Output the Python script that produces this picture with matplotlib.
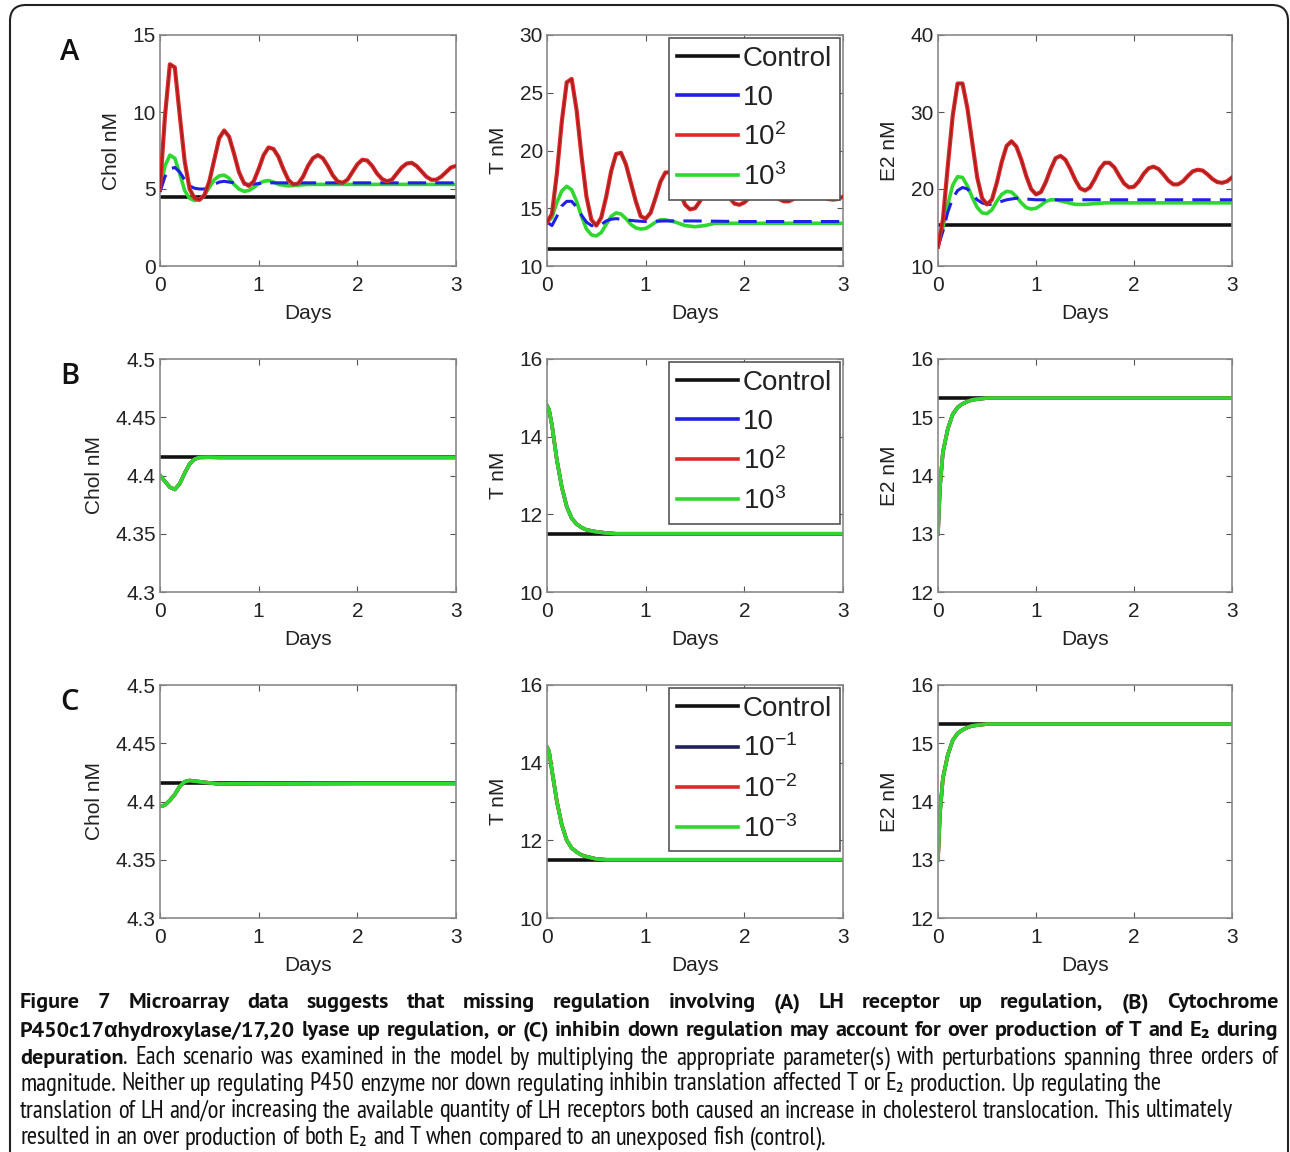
import numpy as np
import matplotlib
matplotlib.use("Agg")
import matplotlib.pyplot as plt
from matplotlib.lines import Line2D
from matplotlib.patches import FancyBboxPatch
from matplotlib.transforms import IdentityTransform

plt.rcParams['font.family'] = ['Liberation Sans', 'DejaVu Sans']
plt.rcParams['mathtext.fontset'] = 'custom'
plt.rcParams['mathtext.rm'] = 'Liberation Sans'
plt.rcParams['mathtext.it'] = 'Liberation Sans:italic'
plt.rcParams['mathtext.bf'] = 'Liberation Sans:bold'

W, H = 1290, 1152

# ---------------- data ----------------
t_full = [0.00, 0.05, 0.10, 0.15, 0.20, 0.25, 0.30, 0.35, 0.40, 0.45, 0.50, 0.55,
          0.60, 0.65, 0.70, 0.75, 0.80, 0.85, 0.90, 0.95, 1.00, 1.05, 1.10, 1.15,
          1.20, 1.25, 1.30, 1.35, 1.40, 1.45, 1.50, 1.55, 1.60, 1.65, 1.70, 1.75,
          1.80, 1.85, 1.90, 1.95, 2.00, 2.05, 2.10, 2.15, 2.20, 2.25, 2.30, 2.35,
          2.40, 2.45, 2.50, 2.55, 2.60, 2.65, 2.70, 2.75, 2.80, 2.85, 2.90, 2.95, 3.00]

# Panel A : LH receptor up regulation
a_chol_ctrl = 4.45
a_chol_red = [5.0, 9.7, 13.1, 12.9, 9.8, 6.8, 5.0, 4.4, 4.3, 4.6, 5.5, 6.9,
              8.3, 8.8, 8.4, 7.3, 6.1, 5.4, 5.2, 5.5, 6.3, 7.2, 7.7, 7.6,
              7.1, 6.3, 5.6, 5.3, 5.35, 5.8, 6.5, 7.0, 7.2, 7.0, 6.5, 5.9,
              5.5, 5.4, 5.6, 6.1, 6.6, 6.9, 6.85, 6.5, 6.0, 5.65, 5.5, 5.6,
              6.0, 6.4, 6.65, 6.7, 6.5, 6.15, 5.8, 5.6, 5.6, 5.8, 6.1, 6.4, 6.5]
a_chol_blue_t = [0.00, 0.05, 0.10, 0.15, 0.20, 0.25, 0.30, 0.35, 0.40, 0.45, 0.50, 0.55,
                 0.60, 0.65, 0.70, 0.80, 0.90, 1.00, 1.10, 1.20, 1.50, 2.00, 3.00]
a_chol_blue = [4.8, 5.8, 6.3, 6.4, 6.1, 5.6, 5.2, 5.05, 5.0, 5.0, 5.1, 5.3,
               5.45, 5.5, 5.45, 5.35, 5.3, 5.35, 5.4, 5.4, 5.4, 5.4, 5.4]
a_chol_green_t = [0.00, 0.05, 0.10, 0.15, 0.20, 0.25, 0.30, 0.35, 0.40, 0.45, 0.50, 0.55,
                  0.60, 0.65, 0.70, 0.75, 0.80, 0.85, 0.90, 0.95, 1.00, 1.05, 1.10, 1.15,
                  1.20, 1.30, 1.40, 1.50, 2.00, 3.00]
a_chol_green = [5.0, 6.5, 7.2, 7.0, 6.0, 4.9, 4.4, 4.25, 4.3, 4.6, 5.1, 5.6,
                5.85, 5.9, 5.7, 5.3, 5.0, 4.85, 4.9, 5.1, 5.35, 5.5, 5.55, 5.45,
                5.3, 5.2, 5.25, 5.3, 5.3, 5.3]

a_t_ctrl = 11.5
a_t_red = [13.8, 14.5, 18.0, 22.5, 25.9, 26.2, 23.5, 19.5, 16.0, 14.0, 13.5, 14.2,
           16.0, 18.2, 19.7, 19.8, 18.8, 17.2, 15.6, 14.3, 14.1, 14.6, 15.9, 17.3,
           18.1, 18.1, 17.4, 16.3, 15.3, 14.9, 15.0, 15.6, 16.4, 17.1, 17.3, 17.1,
           16.6, 15.9, 15.4, 15.3, 15.5, 15.9, 16.4, 16.7, 16.8, 16.6, 16.2, 15.8,
           15.6, 15.6, 15.8, 16.1, 16.4, 16.5, 16.5, 16.3, 16.0, 15.8, 15.75, 15.8, 16.0]
a_t_blue_t = [0.00, 0.05, 0.10, 0.15, 0.20, 0.25, 0.30, 0.35, 0.40, 0.45, 0.50, 0.55,
              0.60, 0.65, 0.70, 0.80, 0.90, 1.00, 1.20, 1.50, 2.00, 3.00]
a_t_blue = [13.8, 13.5, 14.3, 15.2, 15.6, 15.6, 15.1, 14.4, 13.8, 13.5, 13.5, 13.6,
            13.9, 14.05, 14.1, 14.0, 13.9, 13.85, 13.9, 13.9, 13.85, 13.85]
a_t_green_t = [0.00, 0.05, 0.10, 0.15, 0.20, 0.25, 0.30, 0.35, 0.40, 0.45, 0.50, 0.55,
               0.60, 0.65, 0.70, 0.75, 0.80, 0.85, 0.90, 0.95, 1.00, 1.05, 1.10, 1.15,
               1.20, 1.30, 1.40, 1.50, 1.60, 1.70, 2.00, 3.00]
a_t_green = [13.8, 14.2, 15.5, 16.5, 16.9, 16.6, 15.6, 14.3, 13.2, 12.7, 12.6, 12.9,
             13.6, 14.3, 14.6, 14.5, 14.1, 13.6, 13.3, 13.2, 13.25, 13.5, 13.8, 14.0,
             14.0, 13.8, 13.5, 13.4, 13.5, 13.7, 13.7, 13.7]

a_e2_ctrl = 15.3
a_e2_red = [12.5, 16.0, 23.0, 29.5, 33.7, 33.7, 30.5, 26.0, 21.5, 18.8, 18.0, 18.6,
            20.8, 23.5, 25.6, 26.2, 25.5, 23.8, 21.7, 20.0, 19.3, 19.6, 20.9, 22.6,
            24.0, 24.3, 23.8, 22.6, 21.2, 20.1, 19.8, 20.2, 21.3, 22.6, 23.4, 23.4,
            22.8, 21.7, 20.7, 20.2, 20.3, 21.0, 22.0, 22.7, 22.9, 22.6, 21.9, 21.1,
            20.6, 20.6, 21.0, 21.7, 22.3, 22.5, 22.4, 21.9, 21.3, 20.9, 20.8, 21.0, 21.5]
a_e2_blue_t = [0.00, 0.05, 0.10, 0.15, 0.20, 0.25, 0.30, 0.35, 0.40, 0.45, 0.50, 0.55,
               0.60, 0.70, 0.80, 0.90, 1.00, 1.50, 3.00]
a_e2_blue = [12.5, 14.5, 17.0, 18.8, 19.8, 20.2, 20.0, 19.3, 18.6, 18.2, 18.0, 18.0,
             18.2, 18.6, 18.8, 18.7, 18.6, 18.6, 18.6]
a_e2_green_t = [0.00, 0.05, 0.10, 0.15, 0.20, 0.25, 0.30, 0.35, 0.40, 0.45, 0.50, 0.55,
                0.60, 0.65, 0.70, 0.75, 0.80, 0.85, 0.90, 0.95, 1.00, 1.05, 1.10, 1.15,
                1.20, 1.30, 1.40, 1.50, 1.70, 2.00, 3.00]
a_e2_green = [12.5, 15.0, 18.0, 20.5, 21.6, 21.5, 20.4, 18.9, 17.6, 16.9, 16.8, 17.3,
              18.4, 19.3, 19.7, 19.6, 19.0, 18.2, 17.6, 17.4, 17.5, 17.9, 18.4, 18.6,
              18.6, 18.3, 18.0, 18.0, 18.2, 18.2, 18.2]

# Panels B and C : the three perturbations give the same curve
bc_t = [0.00, 0.02, 0.05, 0.10, 0.15, 0.20, 0.25, 0.30, 0.35, 0.40, 0.50, 0.60, 0.70, 1.00, 2.00, 3.00]
chol_ctrl = 4.4155
b_chol = [4.400, 4.398, 4.395, 4.390, 4.388, 4.393, 4.402, 4.410, 4.414, 4.4155,
          4.4157, 4.4155, 4.4155, 4.4155, 4.4155, 4.4155]
c_chol = [4.396, 4.396, 4.397, 4.401, 4.406, 4.413, 4.417, 4.418, 4.4175, 4.417,
          4.416, 4.415, 4.4152, 4.4153, 4.4155, 4.4155]
t_ctrl = 11.5
b_t = [14.8, 14.7, 14.3, 13.4, 12.7, 12.2, 11.9, 11.75, 11.66, 11.6, 11.55, 11.52,
       11.5, 11.5, 11.5, 11.5]
c_t = [14.4, 14.3, 13.8, 13.0, 12.4, 12.0, 11.8, 11.7, 11.62, 11.58, 11.52, 11.5,
       11.5, 11.5, 11.5, 11.5]
e2_ctrl = 15.33
b_e2 = [13.0, 13.8, 14.4, 14.8, 15.05, 15.17, 15.23, 15.27, 15.3, 15.31, 15.33, 15.33,
        15.33, 15.33, 15.33, 15.33]
c_e2 = [13.0, 13.8, 14.4, 14.8, 15.05, 15.17, 15.23, 15.27, 15.3, 15.31, 15.33, 15.33,
        15.33, 15.33, 15.33, 15.33]

labels_up = ['Control', '10', r'10$^2$', r'10$^3$']
labels_down = ['Control', r'10$^{-1}$', r'10$^{-2}$', r'10$^{-3}$']
row_letters = ['A', 'B', 'C']

chol_ticks = [0, 5, 10, 15]
t_ticks_a = [10, 15, 20, 25, 30]
e2_ticks_a = [10, 20, 30, 40]
chol_ticks_bc = [4.3, 4.35, 4.4, 4.45, 4.5]
chol_ticklabels_bc = ['4.3', '4.35', '4.4', '4.45', '4.5']
t_ticks_bc = [10, 12, 14, 16]
e2_ticks_bc = [12, 13, 14, 15, 16]
day_ticks = [0, 1, 2, 3]

caption = [
    [("Figure 7 Microarray data suggests that missing regulation involving (A) LH receptor up regulation, (B) Cytochrome", "bold")],
    [("P450c17\u03b1hydroxylase/17,20 lyase up regulation, or (C) inhibin down regulation may account for over production of T and E\u2082 during", "bold")],
    [("depuration", "bold"), (". Each scenario was examined in the model by multiplying the appropriate parameter(s) with perturbations spanning three orders of", "normal")],
    [("magnitude. Neither up regulating P450 enzyme nor down regulating inhibin translation affected T or E\u2082 production. Up regulating the", "normal")],
    [("translation of LH and/or increasing the available quantity of LH receptors both caused an increase in cholesterol translocation. This ultimately", "normal")],
    [("resulted in an over production of both E\u2082 and T when compared to an unexposed fish (control).", "normal")],
]
caption_justify = [True, True, True, False, False, False]

# ---------------- styles ----------------
BLACK = '#111111'
BLUE = '#1f1fe6'
NAVY = '#22225a'
RED = '#e02828'
GREEN = '#2ed82e'
LW = 2.6

fig = plt.figure(figsize=(W / 100, H / 100), dpi=100)
fig.patch.set_facecolor('white')


def px_axes(l, t, r, b):
    return fig.add_axes([l / W, 1 - b / H, (r - l) / W, (b - t) / H])


def style(ax, ylim, yticks, yticklabels=None, ylabel=''):
    ax.set_xlim(0, 3)
    ax.set_ylim(*ylim)
    ax.set_xticks(day_ticks)
    ax.set_yticks(yticks)
    if yticklabels is not None:
        ax.set_yticklabels(yticklabels)
    ax.tick_params(direction='in', length=4, width=0.8, color='#555555',
                   labelsize=15, labelcolor='#222222',
                   top=True, right=True)
    ax.tick_params(axis='x', pad=7)
    ax.tick_params(axis='y', pad=3)
    for s in ax.spines.values():
        s.set_color('#8a8a8a')
        s.set_linewidth(1.2)
    ax.set_xlabel('Days', fontsize=15, color='#222222', labelpad=7)
    ax.set_ylabel(ylabel, fontsize=15, color='#222222', labelpad=8)


def add_legend(ax, labels, second_color):
    cols = [BLACK, second_color, RED, GREEN]
    handles = [Line2D([], [], color=c, lw=LW) for c in cols]
    leg = ax.legend(handles, labels, loc='upper right', fontsize=20,
                    borderaxespad=0.1, handlelength=2.2, handletextpad=0.15,
                    labelspacing=0.45, borderpad=0.3, fancybox=False,
                    framealpha=1, edgecolor='#555555')
    leg.get_frame().set_linewidth(1.2)
    leg.set_zorder(20)
    for txt in leg.get_texts():
        txt.set_color('#222222')


def draw_curves(ax, t_red, red, t_blue, blue, t_green, green, ctrl, blue_color=BLUE):
    ax.plot([0, 3], [ctrl, ctrl], color=BLACK, lw=LW, zorder=2)
    ax.plot(t_green, green, color=GREEN, lw=LW, zorder=3)
    ax.plot(t_blue, blue, color=blue_color, lw=LW - 0.4, zorder=4,
            dashes=(6, 3))
    ax.plot(t_red, red, color=RED, lw=LW + 0.4, zorder=5)
    ax.plot(t_red, red, color='#7a1e1e', lw=1.0, zorder=6, alpha=0.7)


cols_px = [(160, 456), (547, 843), (938, 1232)]
rows_px = [(35, 266), (359, 592), (685, 918)]

# ---- row A ----
ax = px_axes(cols_px[0][0], rows_px[0][0], cols_px[0][1], rows_px[0][1])
draw_curves(ax, t_full, a_chol_red, a_chol_blue_t, a_chol_blue, a_chol_green_t, a_chol_green, a_chol_ctrl)
style(ax, (0, 15), chol_ticks, ylabel='Chol nM')

ax = px_axes(cols_px[1][0], rows_px[0][0], cols_px[1][1], rows_px[0][1])
draw_curves(ax, t_full, a_t_red, a_t_blue_t, a_t_blue, a_t_green_t, a_t_green, a_t_ctrl)
style(ax, (10, 30), t_ticks_a, ylabel='T nM')
add_legend(ax, labels_up, BLUE)

ax = px_axes(cols_px[2][0], rows_px[0][0], cols_px[2][1], rows_px[0][1])
draw_curves(ax, t_full, a_e2_red, a_e2_blue_t, a_e2_blue, a_e2_green_t, a_e2_green, a_e2_ctrl)
style(ax, (10, 40), e2_ticks_a, ylabel='E2 nM')

# ---- rows B and C ----
rows_bc = [
    (1, b_chol, b_t, b_e2, labels_up, BLUE),
    (2, c_chol, c_t, c_e2, labels_down, NAVY),
]
for r, chol, tt, e2, labs, c2 in rows_bc:
    top, bot = rows_px[r]
    ax = px_axes(cols_px[0][0], top, cols_px[0][1], bot)
    ax.plot([0, 3], [chol_ctrl, chol_ctrl], color=BLACK, lw=LW)
    for c in [c2, RED, GREEN]:
        ax.plot(bc_t, chol, color=c, lw=LW)
    style(ax, (4.3, 4.5), chol_ticks_bc, chol_ticklabels_bc, ylabel='Chol nM')

    ax = px_axes(cols_px[1][0], top, cols_px[1][1], bot)
    ax.plot([0, 3], [t_ctrl, t_ctrl], color=BLACK, lw=LW)
    for c in [c2, RED, GREEN]:
        ax.plot(bc_t, tt, color=c, lw=LW)
    style(ax, (10, 16), t_ticks_bc, ylabel='T nM')
    add_legend(ax, labs, c2)

    ax = px_axes(cols_px[2][0], top, cols_px[2][1], bot)
    ax.plot([0, 3], [e2_ctrl, e2_ctrl], color=BLACK, lw=LW)
    for c in [c2, RED, GREEN]:
        ax.plot(bc_t, e2, color=c, lw=LW)
    style(ax, (12, 16), e2_ticks_bc, ylabel='E2 nM')

# panel letters
for letter, (top, bot) in zip(row_letters, rows_px):
    fig.text(70 / W, 1 - (top + 18) / H, letter, fontsize=21,
             family=['Open Sans', 'DejaVu Sans'], fontweight='semibold',
             ha='center', va='center', color='#111111')

# outer rounded frame
frame = FancyBboxPatch((10, -40), 1278, H - 5 + 40,
                       boxstyle='round,pad=0,rounding_size=16',
                       transform=IdentityTransform(), fill=False,
                       lw=1.5, ec='#222222')
fig.add_artist(frame)

# ---------------- caption ----------------
renderer = fig.canvas.get_renderer()
fam_normal = ['PT Sans Narrow', 'Roboto Condensed', 'Liberation Sans', 'DejaVu Sans']
fam_bold = ['PT Sans', 'Liberation Sans', 'DejaVu Sans']
x_left, x_right = 20, 1278
y_lines = [1003, 1031, 1058, 1084, 1111, 1138]


def width_of(s, size, fam, weight):
    p = fig.text(0, 0, s, fontsize=size, family=fam, fontweight=weight)
    w = p.get_window_extent(renderer).width
    p.remove()
    return w


# normal text: 4th (unjustified) line is about 1140 px wide
size_normal = 10 * 1140 / width_of(caption[3][0][0], 10, fam_normal, 'normal')
# bold text: 2nd line nearly fills the width with normal spaces
size_bold = 10 * 1245 / width_of(caption[1][0][0], 10, fam_bold, 'bold')
space_w = width_of('x x', size_normal, fam_normal, 'normal') - width_of('xx', size_normal, fam_normal, 'normal')

for parts, just, y in zip(caption, caption_justify, y_lines):
    tokens = []
    for txt, w in parts:
        for j, word in enumerate(txt.split(' ')):
            if word == '':
                continue
            glue = (j == 0 and len(tokens) > 0)
            tokens.append((word, w, glue))
    arts = []
    widths = []
    for word, w, glue in tokens:
        if w == 'bold':
            a = fig.text(0, 1 - y / H, word, fontsize=size_bold, family=fam_bold,
                         fontweight='bold', va='center', ha='left', color='#111111')
        else:
            a = fig.text(0, 1 - y / H, word, fontsize=size_normal, family=fam_normal,
                         va='center', ha='left', color='#111111')
        arts.append(a)
        widths.append(a.get_window_extent(renderer).width)
    n_gaps = sum(1 for k, tk in enumerate(tokens) if k > 0 and not tk[2])
    if just and n_gaps > 0:
        gap = (x_right - x_left - sum(widths)) / n_gaps
    else:
        gap = space_w
    x = x_left
    for k, (a, wdt) in enumerate(zip(arts, widths)):
        if k > 0 and not tokens[k][2]:
            x += gap
        a.set_x(x / W)
        x += wdt

fig.savefig('out.png', dpi=100)
